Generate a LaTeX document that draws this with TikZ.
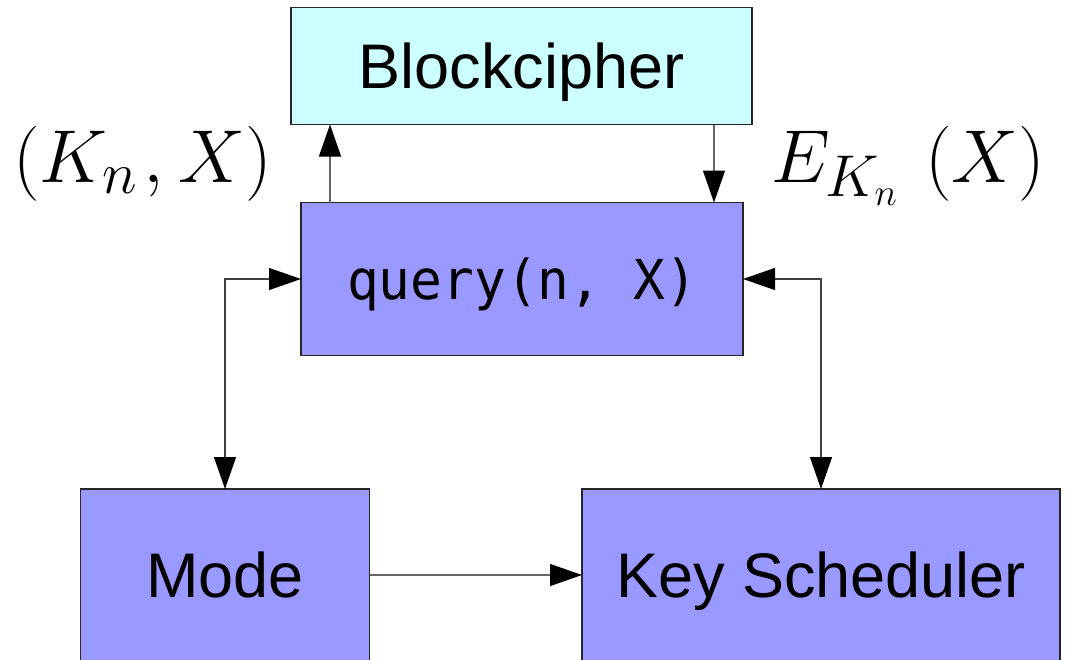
\RequirePackage{fix-cm}
\documentclass[tikz,border=0pt]{standalone}
\usepackage{fontspec}
\setmainfont{Liberation Sans}
\newfontfamily\codefont[FakeStretch=0.96]{DejaVu Sans Mono}
\usetikzlibrary{arrows.meta}
\DeclareMathSizes{75}{75}{59}{38}
\definecolor{cipherfill}{RGB}{204,255,255}
\definecolor{unitfill}{RGB}{153,153,255}
\tikzset{
  block/.style={draw=black!85, line width=1.1pt, inner sep=0pt, outer sep=0pt,
    font=\fontsize{63}{70}\selectfont, text height=45pt, text depth=0pt},
  cipherbox/.style={block, fill=cipherfill},
  unitbox/.style={block, fill=unitfill},
  link/.style={draw=black!60, line width=1.3pt,
    -{Triangle[length=32pt,width=22pt,black]}},
  duplex/.style={draw=black!75, line width=1.1pt,
    {Triangle[length=32pt,width=22pt,black]}-{Triangle[length=32pt,width=22pt,black]}},
  mathlabel/.style={anchor=base west, inner sep=0pt, font=\fontsize{75}{80}\selectfont}
}
\begin{document}
\begin{tikzpicture}[x=1pt, y=-1pt]
  \useasboundingbox (0,0) rectangle (1066,659);
  \clip (0,0) rectangle (1066,659);

  % blocks
  \node[cipherbox, minimum width=461pt, minimum height=117pt] (bc) at (521.5,66) {Blockcipher};
  \node[unitbox, minimum width=442pt, minimum height=153pt, text height=40pt] (query) at (522,279)
    {\fontsize{55}{60}\selectfont\codefont query(n, X)};
  \node[unitbox, minimum width=289pt, minimum height=172pt] (mode) at (225,575) {Mode};
  \node[unitbox, minimum width=478pt, minimum height=172pt] (key) at (821,575) {Key Scheduler};

  % labels on the cipher links
  \node[mathlabel] (inlabel) at (13,182) {$(K_{n}\mkern1.5mu,\mkern0.5mu X)$};
  \node[mathlabel] (outlabel) at (771,182) {$E_{K_{n}}\mkern6.5mu(X)$};

  % connectors
  \draw[link] ([xshift=29pt]query.north west) -- ([xshift=29pt]query.north west |- bc.south);
  \draw[link] ([xshift=-29pt]query.north east |- bc.south) -- ([xshift=-29pt]query.north east);
  \draw[duplex] (query.west) -| (mode.north);
  \draw[duplex] (query.east) -| (key.north);
  \draw[link] (mode.east) -- (key.west);
\end{tikzpicture}
\end{document}
